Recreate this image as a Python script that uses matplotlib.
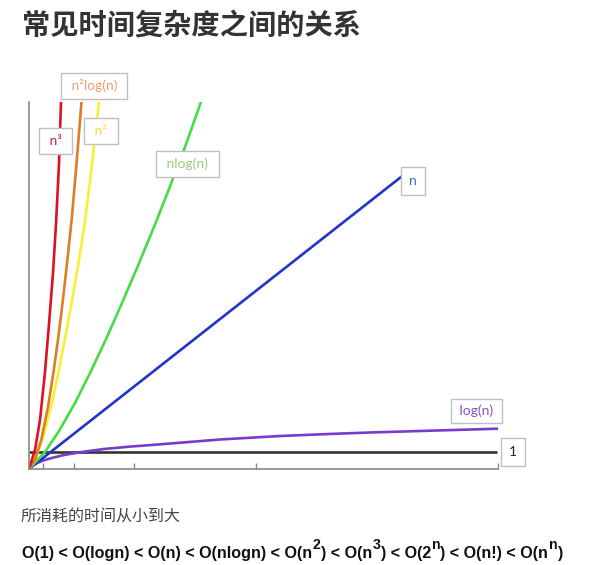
import matplotlib.pyplot as plt
import numpy as np

plt.rcParams['font.family'] = ['Noto Sans CJK SC', 'DejaVu Sans']

# curve samples (x, y in plot units)
n3_x = [0, 6, 11, 16, 20, 24, 27, 30, 32]
n3_y = [0, 19, 49, 97, 145, 196, 245, 305, 367]
n2logn_x = [0, 6, 12.5, 19, 24.5, 29.5, 34, 38.5, 43, 47.5, 52.5]
n2logn_y = [0, 9, 30, 62, 97, 133, 170, 210, 253, 305, 367]
n2_x = [0, 6, 14, 22, 29.5, 36.5, 43, 49.5, 56, 63, 70]
n2_y = [0, 9, 31, 62, 97, 133, 168, 206, 248, 305, 367]
nlogn_x = [0, 16, 30, 46, 62, 78, 93, 108, 125, 140, 156, 172]
nlogn_y = [0, 17, 38, 66, 98, 132, 166, 201, 242, 280, 322, 367]
n_x = [0, 372]
n_y = [0, 292]
logn_x = [0, 2, 5, 9.3, 15, 22.7, 35, 52.7, 75, 100, 129, 160, 191, 251, 300, 341, 407.7, 469]
logn_y = [0, 2.5, 4.5, 6.5, 8.8, 11, 14, 17, 20, 22.3, 24.5, 27, 29.5, 33, 35, 36.5, 38.5, 40.3]
const_x = [0, 468]
const_y = [17, 17]

x_ticks = [14, 45, 105, 227, 469]

title = '常见时间复杂度之间的关系'
subtitle = '所消耗的时间从小到大'
# (text, superscript?)
order_parts = [('O(1) < O(logn) < O(n) < O(nlogn) < O(n', False), ('2', True),
               (') < O(n', False), ('3', True), (') < O(2', False), ('n', True),
               (') < O(n!) < O(n', False), ('n', True), (')', False)]

fig = plt.figure(figsize=(6.14, 5.65), dpi=100)
ax = fig.add_axes([29 / 614, 96 / 565, 469 / 614, 367 / 565])

lw = 1.9
ax.plot(const_x, const_y, color='#333333', lw=lw, solid_capstyle='butt')
ax.plot(logn_x, logn_y, color='#7a3bcc', lw=lw)
ax.plot(n_x, n_y, color='#2233cc', lw=lw)
ax.plot(nlogn_x, nlogn_y, color='#44dd44', lw=lw)
ax.plot(n2_x, n2_y, color='#f8f030', lw=lw)
ax.plot(n2logn_x, n2logn_y, color='#de7d26', lw=lw)
ax.plot(n3_x, n3_y, color='#e01020', lw=lw)

ax.set_xlim(0, 469)
ax.set_ylim(0, 367)
for s in ['top', 'right']:
    ax.spines[s].set_visible(False)
for s in ['left', 'bottom']:
    ax.spines[s].set_color('#888888')
    ax.spines[s].set_linewidth(1.2)
ax.set_xticks(x_ticks)
ax.set_xticklabels([])
ax.set_yticks([])
ax.tick_params(axis='x', direction='in', length=4, color='#888888', width=1)

# boxed curve labels
def label(x, y, txt, color, w):
    ax.text(x, y, txt, color=color, fontsize=10, ha='center', va='center',
            family=['Lato', 'DejaVu Sans'], clip_on=False,
            bbox=dict(boxstyle='square,pad=%s' % w, fc='white', ec='#c0c0c0', lw=1))

label(65, 383, ' n²log(n) ', '#f0a070', 0.45)
label(26.5, 328, ' n³ ', '#c0283a', 0.5)
label(72, 338, ' n² ', '#eedd44', 0.5)
label(158.5, 305, ' nlog(n) ', '#9ccb7a', 0.5)
label(384, 288, 'n', '#3a6bbf', 0.55)
label(447.5, 58, ' log(n) ', '#8a4fcf', 0.4)
label(484, 17, '1', '#222222', 0.55)

fig.text(22 / 614, 1 - 27 / 565, title, fontsize=20.3, fontweight='bold',
         color='#333333', va='center', ha='left')
fig.text(21 / 614, 1 - 516 / 565, subtitle, fontsize=11.5, color='#444444',
         va='center', ha='left')

# complexity order line, each piece chained after the previous one,
# superscripts drawn smaller and raised
fs = 11.6
first = fig.text(22 / 614, 1 - 561 / 565, order_parts[0][0], fontsize=fs,
                 fontweight='bold', family='Liberation Sans', color='#111111',
                 va='bottom', ha='left')
prev = first
for txt, sup in order_parts[1:]:
    prev = ax.annotate(txt, xy=(1, 0), xycoords=(prev, first),
                       xytext=(0.4 if sup else 0.2, 6.3 if sup else 0),
                       textcoords='offset points',
                       fontsize=fs * 0.88 if sup else fs, fontweight='bold',
                       family='Liberation Sans', color='#111111',
                       va='bottom', ha='left', annotation_clip=False)

fig.savefig('out.png', dpi=100)
